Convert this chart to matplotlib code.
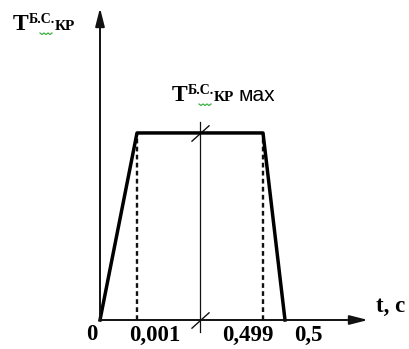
import numpy as np
import matplotlib.pyplot as plt
from matplotlib.lines import Line2D

# impulse shape: t in seconds, T relative to its maximum
t = [0, 0.001, 0.499, 0.5]
T = [0, 1, 1, 0]
tick_t = [0, 0.001, 0.499, 0.5]
tick_labels = ['0', '0,001', '0,499', '0,5']
t_break = 0.25

# broken time axis: the short fronts are stretched, the middle squeezed
knots_t = [0, 0.001, 0.499, 0.5, 1.0]
knots_u = [0, 37, 163, 185, 268]


def fwd(x):
    return np.interp(x, knots_t, knots_u)


def inv(u):
    return np.interp(u, knots_u, knots_t)


serif = 'Liberation Serif'

fig = plt.figure(figsize=(4.09, 3.49), dpi=100)
ax = fig.add_axes([100 / 409, 29 / 349, 268 / 409, 312 / 349])
ax.set_xscale('function', functions=(fwd, inv))
ax.set_xlim(0, 1.0)
ax.set_ylim(0, 1.668)
ax.axis('off')

# axes with arrows
arr = dict(arrowstyle='-|>,head_length=1.1,head_width=0.28', color='#111111',
           lw=1.4, shrinkA=0, shrinkB=0, mutation_scale=10)
ax.annotate('', xy=(1, 0), xytext=(0, 0), xycoords='axes fraction',
            arrowprops=arr, annotation_clip=False)
ax.annotate('', xy=(0, 1), xytext=(0, 0), xycoords='axes fraction',
            arrowprops=arr, annotation_clip=False)

# dashed guides at the front edges
for i in (1, 2):
    ax.plot([t[i], t[i]], [0, T[i]], color='#111111', lw=1.7,
            ls=(0, (2.0, 1.4)), clip_on=False)

# break line and slashes
ax.plot([t_break, t_break], [-0.064, 1.059], color='#111111', lw=0.9,
        clip_on=False)
ax.plot([t_break, t_break], [1, 0], ls='none', marker=[(-1, -0.9), (1, 0.9)],
        ms=13, mew=1.0, color='#111111', clip_on=False)

# the impulse
ax.plot(t, T, color='black', lw=2.5, solid_joinstyle='round', clip_on=False)

# tick labels
dx = [-8, 18, -15, 23]
for xv, lab, d in zip(tick_t, tick_labels, dx):
    ax.annotate(lab, xy=(xv, 0), xytext=(d, -15), textcoords='offset pixels',
                ha='center', va='center', fontsize=16.5, fontweight='bold',
                family=serif, annotation_clip=False)
ax.annotate('t, c', xy=(1.0, 0), xytext=(23, 14), textcoords='offset pixels',
            ha='center', va='center', fontsize=16.5, fontweight='bold',
            family=serif, annotation_clip=False)


def t_label(x, y, suffix=''):
    # x, y: pixel position of the baseline of "T", y from the top
    yb = 349 - y
    fig.text(x, yb, 'T', transform=None, fontsize=17, fontweight='bold',
             family=serif, va='baseline', ha='left')
    fig.text(x + 16, yb + 7, 'Б.С.', transform=None, fontsize=10,
             fontweight='bold', family=serif, va='baseline', ha='left')
    fig.text(x + 42, yb, 'КР', transform=None, fontsize=11,
             fontweight='bold', family=serif, va='baseline', ha='left')
    if suffix:
        fig.text(x + 67, yb, suffix, transform=None, fontsize=15,
                 family='Liberation Sans', va='baseline', ha='left')
    # spell-check squiggle under Б.С.
    xs = np.arange(x + 27, x + 41, 2.0)
    ys = yb - 3 - 1.5 * (np.arange(len(xs)) % 2)
    fig.add_artist(Line2D(xs, ys, transform=None, color='#3cb043', lw=0.9))


t_label(13, 30)
t_label(172, 101, 'мах')

fig.savefig('out.png', dpi=100)
